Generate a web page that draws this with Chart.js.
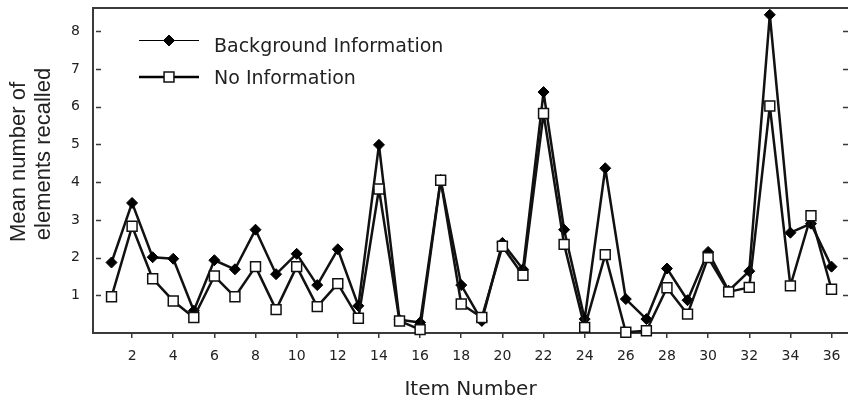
<!DOCTYPE html>
<html>
<head>
<meta charset="utf-8">
<script src="https://cdn.jsdelivr.net/npm/chart.js@4/dist/chart.umd.min.js"></script>
<style>
  html, body { margin: 0; padding: 0; background: #fff; }
  canvas { display: block; }
</style>
</head>
<body>
<canvas id="chart" width="848" height="400"></canvas>
<script>
// Item numbers 1..36
const items = [1, 2, 3, 4, 5, 6, 7, 8, 9, 10, 11, 12, 13, 14, 15, 16, 17, 18,
  19, 20, 21, 22, 23, 24, 25, 26, 27, 28, 29, 30, 31, 32, 33, 34, 35, 36];

// Mean number of elements recalled
const backgroundInfo = [1.87, 3.45, 2.01, 1.97, 0.59, 1.93, 1.69, 2.74, 1.56, 2.10, 1.27, 2.22,
  0.72, 4.99, 0.35, 0.28, 4.06, 1.27, 0.32, 2.39, 1.69, 6.39, 2.74, 0.37,
  4.37, 0.90, 0.37, 1.71, 0.87, 2.15, 1.12, 1.64, 8.44, 2.66, 2.90, 1.76];
const noInfo = [0.96, 2.83, 1.44, 0.85, 0.41, 1.51, 0.96, 1.76, 0.62, 1.76, 0.70, 1.31,
  0.39, 3.82, 0.32, 0.09, 4.05, 0.77, 0.41, 2.30, 1.53, 5.82, 2.35, 0.15,
  2.08, 0.02, 0.06, 1.20, 0.50, 2.00, 1.09, 1.21, 6.02, 1.25, 3.11, 1.16];

const xTicks = [2, 4, 6, 8, 10, 12, 14, 16, 18, 20, 22, 24, 26, 28, 30, 32, 34, 36];
const yTicks = [1, 2, 3, 4, 5, 6, 7, 8];

const seriesNames = ['Background Information', 'No Information'];
const xTitle = 'Item Number';
const yTitle = ['Mean number of', 'elements recalled'];

const toPoints = vals => vals.map((v, i) => ({ x: items[i], y: v }));

const axisColor = '#3a3a3a';
const textColor = '#222';

// frame, inward y ticks, titles and the in-plot legend
const decorations = {
  id: 'decorations',
  afterDraw(chart) {
    const ctx = chart.ctx;
    const a = chart.chartArea;
    const y = chart.scales.y;
    ctx.save();

    // top border
    ctx.strokeStyle = axisColor;
    ctx.lineWidth = 2;
    ctx.beginPath();
    ctx.moveTo(a.left, a.top);
    ctx.lineTo(a.right, a.top);
    ctx.stroke();

    // inward tick marks left and right
    ctx.lineWidth = 1.5;
    yTicks.forEach(v => {
      const py = Math.round(y.getPixelForValue(v)) + 0.5;
      ctx.beginPath();
      ctx.moveTo(a.left + 3, py);
      ctx.lineTo(a.left + 8, py);
      ctx.moveTo(a.right - 5, py);
      ctx.lineTo(a.right, py);
      ctx.stroke();
    });

    // axis titles
    ctx.fillStyle = textColor;
    ctx.font = '20px "DejaVu Sans"';
    ctx.textAlign = 'center';
    ctx.textBaseline = 'alphabetic';
    ctx.fillText(xTitle, (a.left + a.right) / 2, 395);

    ctx.font = '22px "Liberation Sans"';
    ctx.save();
    ctx.translate(25, 162);
    ctx.rotate(-Math.PI / 2);
    ctx.fillText(yTitle[0], 0, 0);
    ctx.restore();
    ctx.save();
    ctx.translate(50, 154);
    ctx.rotate(-Math.PI / 2);
    ctx.fillText(yTitle[1], 0, 0);
    ctx.restore();

    // legend
    const rows = [
      { ds: chart.data.datasets[0], lineY: 40.5, textY: 47, lw: 1 },
      { ds: chart.data.datasets[1], lineY: 77, textY: 79, lw: 2.5 }
    ];
    ctx.font = '19px "DejaVu Sans"';
    ctx.textAlign = 'left';
    ctx.textBaseline = 'middle';
    rows.forEach(r => {
      ctx.strokeStyle = '#000';
      ctx.lineWidth = r.lw;
      ctx.beginPath();
      ctx.moveTo(139, r.lineY);
      ctx.lineTo(199, r.lineY);
      ctx.stroke();
      ctx.fillStyle = r.ds.pointBackgroundColor;
      ctx.strokeStyle = r.ds.pointBorderColor;
      ctx.lineWidth = r.ds.pointBorderWidth;
      Chart.helpers.drawPoint(ctx, {
        pointStyle: r.ds.pointStyle,
        radius: r.ds.pointRadius,
        borderWidth: r.ds.pointBorderWidth,
        rotation: 0
      }, 169, r.lineY);
      ctx.fillStyle = textColor;
      ctx.fillText(r.ds.label, 214, r.textY);
    });

    ctx.restore();
  }
};

new Chart(document.getElementById('chart'), {
  type: 'line',
  data: {
    datasets: [
      {
        label: seriesNames[0],
        data: toPoints(backgroundInfo),
        borderColor: '#111',
        borderWidth: 2.5,
        borderJoinStyle: 'round',
        pointStyle: 'rectRot',
        pointRadius: 5.5,
        pointBackgroundColor: '#000',
        pointBorderColor: '#000',
        pointBorderWidth: 1,
        order: 2,
        clip: false
      },
      {
        label: seriesNames[1],
        data: toPoints(noInfo),
        borderColor: '#111',
        borderWidth: 2.5,
        borderJoinStyle: 'round',
        pointStyle: 'rect',
        pointRadius: 7,
        pointBackgroundColor: '#fff',
        pointBorderColor: '#111',
        pointBorderWidth: 1.5,
        order: 1,
        clip: false
      }
    ]
  },
  options: {
    responsive: false,
    animation: false,
    layout: { autoPadding: false, padding: { top: 8, right: 0, left: 0, bottom: 0 } },
    plugins: { legend: { display: false }, tooltip: { enabled: false } },
    elements: { line: { tension: 0 } },
    scales: {
      x: {
        type: 'linear',
        min: 0.1,
        max: 36.8,
        afterBuildTicks: s => { s.ticks = xTicks.map(v => ({ value: v })); },
        afterFit: s => { s.height = 67; s.paddingLeft = 0; s.paddingRight = 0; },
        grid: { drawOnChartArea: false, drawTicks: true, tickLength: 5, color: axisColor, lineWidth: 1.5 },
        border: { display: true, color: axisColor, width: 2 },
        ticks: { color: textColor, font: { family: 'DejaVu Sans', size: 14 }, padding: 10, maxRotation: 0 }
      },
      y: {
        min: 0,
        max: 8.62,
        afterBuildTicks: s => { s.ticks = yTicks.map(v => ({ value: v })); },
        afterFit: s => { s.width = 93; s.paddingTop = 0; s.paddingBottom = 0; },
        grid: { drawOnChartArea: false, drawTicks: false },
        border: { display: true, color: axisColor, width: 2 },
        ticks: { color: textColor, font: { family: 'DejaVu Sans', size: 14 }, padding: 13 }
      }
    }
  },
  plugins: [decorations]
});
</script>
</body>
</html>
